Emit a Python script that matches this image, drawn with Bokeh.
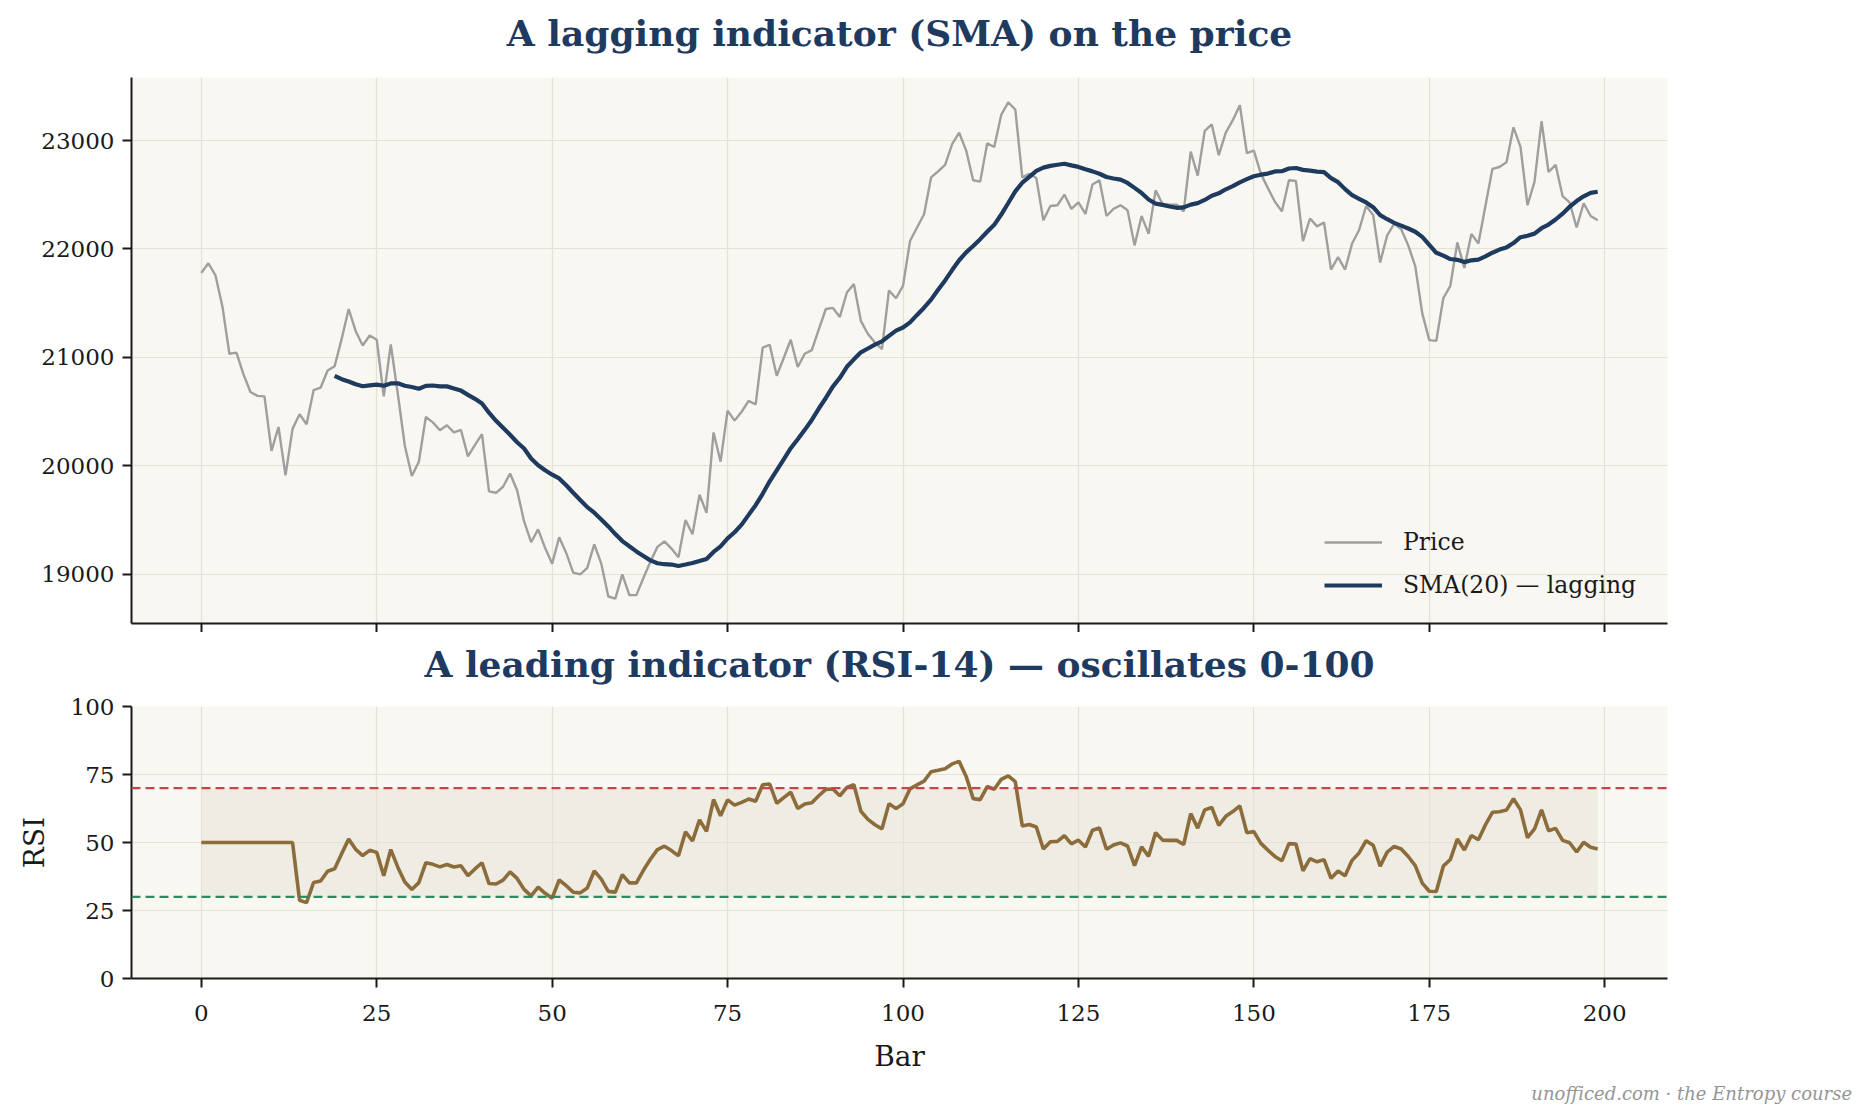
import numpy as np
import pandas as pd
from bokeh.plotting import figure
from bokeh.layouts import column
from bokeh.models import Range1d, FixedTicker, Span, Title, Legend, LegendItem, Label
from bokeh.embed import file_html
from bokeh.resources import INLINE

# ---- data -------------------------------------------------------------
price = [
    21779, 21868, 21759, 21472, 21033, 21043, 20845, 20680, 20644, 20640,
    20136, 20357, 19911, 20340, 20475, 20383, 20697, 20720, 20878, 20918,
    21170, 21446, 21241, 21109, 21201, 21162, 20640, 21119, 20664, 20185,
    19905, 20037, 20449, 20400, 20327, 20373, 20307, 20330, 20086, 20192,
    20291, 19763, 19750, 19806, 19928, 19773, 19486, 19294, 19413, 19240,
    19096, 19340, 19195, 19014, 18997, 19057, 19274, 19096, 18793, 18773,
    18997, 18806, 18806, 18964, 19113, 19251, 19301, 19235, 19155, 19499,
    19367, 19733, 19565, 20307, 20037, 20508, 20416, 20498, 20598, 20565,
    21089, 21116, 20829, 20994, 21162, 20911, 21033, 21066, 21258, 21446,
    21456, 21373, 21598, 21677, 21334, 21215, 21136, 21076, 21617, 21545,
    21660, 22073, 22198, 22320, 22660, 22716, 22776, 22967, 23073, 22908,
    22634, 22621, 22974, 22941, 23238, 23353, 23287, 22660, 22693, 22654,
    22264, 22396, 22403, 22502, 22370, 22429, 22323, 22594, 22634, 22304,
    22370, 22403, 22357, 22033, 22304, 22139, 22541, 22413, 22409, 22409,
    22347, 22898, 22677, 23089, 23149, 22865, 23073, 23188, 23327, 22885,
    22908, 22693, 22561, 22436, 22347, 22634, 22627, 22073, 22281, 22208,
    22244, 21809, 21924, 21809, 22050, 22175, 22396, 22314, 21875, 22125,
    22231, 22182, 22033, 21842, 21406, 21159, 21152, 21545, 21660, 22060,
    21825, 22139, 22050, 22396, 22739, 22756, 22799, 23122, 22941, 22403,
    22621, 23178, 22710, 22776, 22488, 22429, 22198, 22422, 22304, 22264,
]
bars = list(range(len(price)))
x_ticks = [0, 25, 50, 75, 100, 125, 150, 175, 200]
price_ticks = [19000, 20000, 21000, 22000, 23000]
rsi_ticks = [0, 25, 50, 75, 100]
sma_window = 20
rsi_period = 14
overbought, oversold = 70, 30

# ---- indicators -------------------------------------------------------
px = np.asarray(price, dtype=float)
sma = pd.Series(px).rolling(sma_window).mean().to_numpy()

# Wilder RSI, neutral 50 until the first full period is available
delta = np.diff(px)
gain = np.clip(delta, 0, None)
loss = np.clip(-delta, 0, None)
rsi = np.full(len(px), 50.0)
avg_g = gain[:rsi_period].mean()
avg_l = loss[:rsi_period].mean()
rsi[rsi_period] = 100 - 100 / (1 + avg_g / avg_l)
for i in range(rsi_period + 1, len(px)):
    avg_g = (avg_g * (rsi_period - 1) + gain[i - 1]) / rsi_period
    avg_l = (avg_l * (rsi_period - 1) + loss[i - 1]) / rsi_period
    rsi[i] = 100 - 100 / (1 + avg_g / avg_l)

# ---- style ------------------------------------------------------------
SERIF = "DejaVu Serif"
NAVY = "#1f3a5f"
BG = "#f9f7f1"
GRID = "#e6e1d5"
INK = "#1a1a1a"
W = 1872
LEFT, RIGHT = 131, 205
FRAME_W = W - LEFT - RIGHT

pad = 0.05 * (bars[-1] - bars[0])
x_rng = (bars[0] - pad, bars[-1] + pad)
pmin, pmax = px.min(), px.max()
ppad = 0.05 * (pmax - pmin)


def style(p):
    p.background_fill_color = BG
    p.border_fill_color = "white"
    p.outline_line_color = None
    for ax in (p.xaxis[0], p.yaxis[0]):
        ax.axis_line_color = INK
        ax.axis_line_width = 2
        ax.major_tick_line_color = INK
        ax.major_tick_line_width = 2
        ax.major_tick_out = 9
        ax.major_tick_in = 0
        ax.minor_tick_line_color = None
        ax.major_label_text_font = SERIF
        ax.major_label_text_font_size = "23px"
        ax.major_label_text_color = INK
        ax.axis_label_text_font = SERIF
        ax.axis_label_text_font_style = "normal"
        ax.axis_label_text_font_size = "28px"
        ax.axis_label_text_color = INK
    p.yaxis[0].major_label_standoff = 8
    p.xaxis[0].major_label_standoff = 17
    p.grid.grid_line_color = GRID
    p.grid.grid_line_width = 1.2


def heading(text, height, from_bottom):
    # a thin strip above a panel that carries its bold heading;
    # the column lines its frame up with the panels below, so x is frame-relative
    h = figure(width=W, height=height, output_backend="svg", toolbar_location=None,
               min_border=0, x_range=Range1d(0, 1), y_range=Range1d(0, 1))
    h.axis.visible = False
    h.grid.visible = False
    h.outline_line_color = None
    h.background_fill_color = "white"
    h.border_fill_color = "white"
    h.add_layout(Label(x=FRAME_W / 2, y=from_bottom, x_units="screen", y_units="screen",
                       text=text, text_align="center", text_baseline="middle",
                       text_font=SERIF, text_font_style="bold", text_font_size="36px",
                       text_color=NAVY))
    return h


# ---- price panel ------------------------------------------------------
H1_H, P1_H, H2_H = 77, 555, 59
head1 = heading("A lagging indicator (SMA) on the price", H1_H, 45)

p1 = figure(width=W, height=P1_H, output_backend="svg", toolbar_location=None,
            x_range=Range1d(*x_rng), y_range=Range1d(pmin - ppad, pmax + ppad),
            min_border_left=LEFT, min_border_right=RIGHT,
            min_border_top=0, min_border_bottom=9)
style(p1)
p1.xaxis.ticker = FixedTicker(ticks=x_ticks)
p1.yaxis.ticker = FixedTicker(ticks=price_ticks)
# shared bar axis: tick marks only, numbers are shown on the RSI panel
p1.xaxis.major_label_text_color = None
p1.xaxis.major_label_text_font_size = "0px"
p1.xaxis.major_label_standoff = 0

r_price = p1.line(bars, px, line_color="#9f9f9f", line_width=2.4)
r_sma = p1.line(bars, sma, line_color=NAVY, line_width=4.2)
legend = Legend(items=[LegendItem(label="Price", renderers=[r_price]),
                       LegendItem(label="SMA(20) \u2014 lagging", renderers=[r_sma])],
                location=(1193, 24), padding=10, margin=0, spacing=15,
                glyph_width=58, glyph_height=24, label_standoff=21,
                label_text_font=SERIF, label_text_font_size="23.5px",
                label_text_color=INK, border_line_color=None,
                background_fill_alpha=0)
p1.add_layout(legend)

# ---- RSI panel --------------------------------------------------------
head2 = heading("A leading indicator (RSI-14) \u2014 oscillates 0-100", H2_H, 28)

p2 = figure(width=W, height=1119 - H1_H - P1_H - H2_H, output_backend="svg",
            toolbar_location=None, x_range=p1.x_range, y_range=Range1d(0, 100),
            min_border_left=LEFT, min_border_right=RIGHT,
            min_border_top=15, min_border_bottom=141)
style(p2)
p2.xaxis.ticker = FixedTicker(ticks=x_ticks)
p2.yaxis.ticker = FixedTicker(ticks=rsi_ticks)
p2.xaxis.axis_label = "Bar"
p2.yaxis.axis_label = "RSI"
p2.xaxis.axis_label_standoff = 16
p2.yaxis.axis_label_standoff = 17

p2.varea(x=[bars[0], bars[-1]], y1=[oversold, oversold], y2=[overbought, overbought],
         fill_color="#e6e1d8", fill_alpha=0.5)
p2.add_layout(Span(location=overbought, dimension="width", line_color="#c0474d",
                   line_width=2.2, line_dash="9 5"))
p2.add_layout(Span(location=oversold, dimension="width", line_color="#2e8b5e",
                   line_width=2.2, line_dash="9 5"))
p2.line(bars, rsi, line_color="#8b6c3a", line_width=3.6)

p2.add_layout(Title(text="unofficed.com  \u00b7  the Entropy course", align="right",
                    offset=-196, text_font=SERIF, text_font_style="italic",
                    text_font_size="18px", text_color="#959595"), "below")

layout = column(head1, p1, head2, p2, spacing=0)
open("out.html", "w").write(file_html(layout, INLINE))
